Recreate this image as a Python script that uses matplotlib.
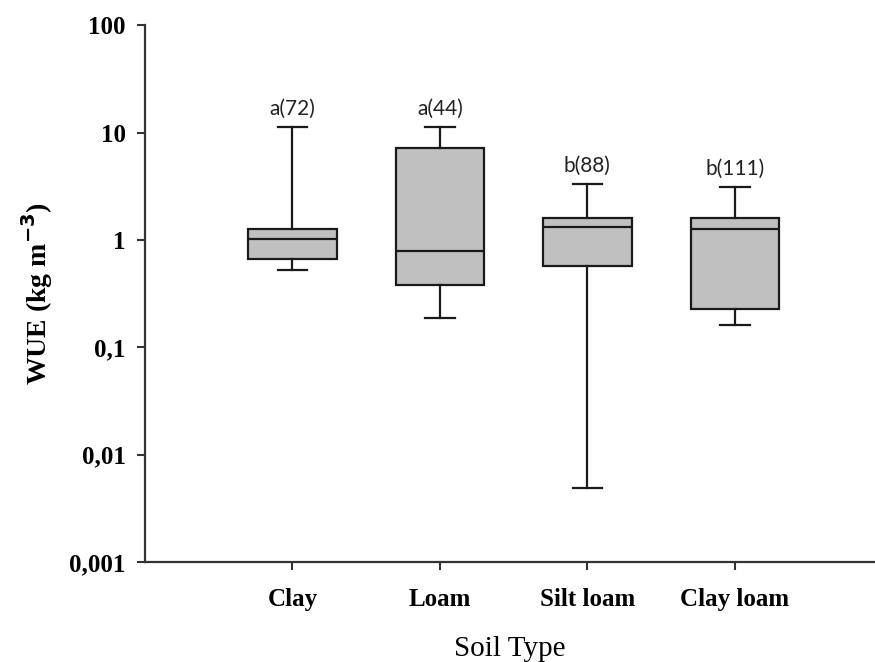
"""
WUE by soil type -- log-scale box plot with group letters and counts.
"""

import matplotlib
matplotlib.use("Agg")
import matplotlib.pyplot as plt
from matplotlib.ticker import FixedLocator, NullLocator

# ---------------------------------------------------------------------------
# Data
# ---------------------------------------------------------------------------

soils    = ["Clay", "Loam", "Silt loam", "Clay loam"]
whislo   = [0.53, 0.187, 0.0049, 0.161]
q1       = [0.66, 0.38, 0.57, 0.227]
med      = [1.03, 0.78, 1.32, 1.27]
q3       = [1.26, 7.2, 1.6, 1.6]
whishi   = [11.2, 11.2, 3.3, 3.1]
letters  = ["a", "a", "b", "b"]
counts   = [72, 44, 88, 111]

ytick_vals   = [0.001, 0.01, 0.1, 1, 10, 100]
ytick_labels = ["0,001", "0,01", "0,1", "1", "10", "100"]

SERIF = "Liberation Serif"

# ---------------------------------------------------------------------------
# Plot
# ---------------------------------------------------------------------------

fig = plt.figure(figsize=(8.75, 6.62), dpi=100)
ax = fig.add_axes([0.1657, 0.151, 0.8343, 0.811])

stats = [
    {"whislo": lo, "q1": a, "med": m, "q3": b, "whishi": hi, "fliers": []}
    for lo, a, m, b, hi in zip(whislo, q1, med, q3, whishi)
]
positions = list(range(1, len(soils) + 1))

ax.bxp(
    stats,
    positions=positions,
    widths=0.6,
    patch_artist=True,
    showfliers=False,
    boxprops={"facecolor": "#C0C0C0", "edgecolor": "#1a1a1a", "linewidth": 1.6},
    medianprops={"color": "#1a1a1a", "linewidth": 1.6},
    whiskerprops={"color": "#1a1a1a", "linewidth": 1.6},
    capprops={"color": "#1a1a1a", "linewidth": 1.6},
    capwidths=0.2,
)

ax.set_yscale("log")
ax.set_ylim(0.001, 100)
ax.set_xlim(0, 4.95)

ax.yaxis.set_major_locator(FixedLocator(ytick_vals))
ax.yaxis.set_minor_locator(NullLocator())
ax.set_yticklabels(ytick_labels, fontfamily=SERIF, fontweight="bold", fontsize=18)

ax.set_xticks(positions)
ax.set_xticklabels(soils, fontfamily=SERIF, fontweight="bold", fontsize=18)

ax.tick_params(axis="both", direction="out", length=6, width=1.5,
               color="#333333", pad=8)
ax.tick_params(axis="x", pad=13)

for side in ("top", "right"):
    ax.spines[side].set_visible(False)
for side in ("left", "bottom"):
    ax.spines[side].set_linewidth(1.6)
    ax.spines[side].set_color("#333333")

# group letters + sample sizes above each upper whisker
for x, hi, let, n in zip(positions, whishi, letters, counts):
    ax.annotate(f"{let}({n})", xy=(x, hi), xytext=(0, 6),
                textcoords="offset points", ha="center", va="bottom",
                fontfamily="Lato", fontsize=15, color="#222222")

ax.set_ylabel(r"WUE (kg m$^{\mathbf{-3}}$)", fontfamily=SERIF,
              fontweight="bold", fontsize=20, labelpad=10)
ax.set_xlabel("Soil Type", fontfamily=SERIF, fontsize=21, labelpad=18)

fig.savefig("out.png", dpi=100)
plt.close(fig)
